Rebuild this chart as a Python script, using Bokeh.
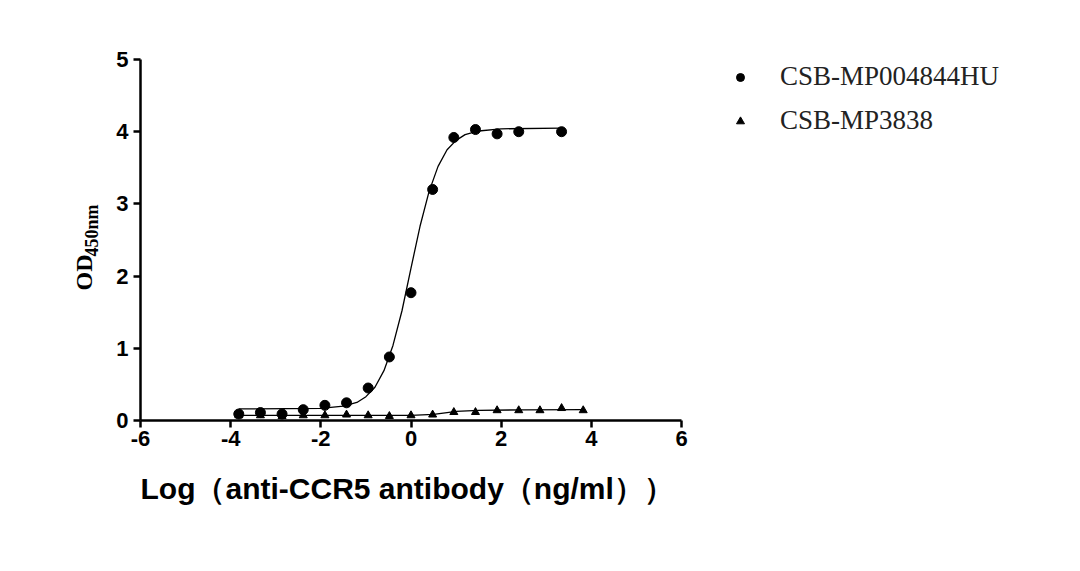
from math import pi

from bokeh.plotting import figure
from bokeh.models import ColumnDataSource, Legend, LegendItem, Label, FixedTicker
from bokeh.embed import file_html
from bokeh.resources import INLINE

# log10 concentration (1:3 dilution series) and OD450 readings
log_conc_a = [-3.82, -3.34, -2.86, -2.39, -1.91, -1.43, -0.95, -0.48, 0.0, 0.48, 0.95, 1.43, 1.91, 2.39, 3.34]
od_a = [0.09, 0.11, 0.09, 0.15, 0.21, 0.245, 0.45, 0.88, 1.77, 3.2, 3.92, 4.03, 3.97, 4.0, 4.0]

log_conc_b = [-3.82, -3.34, -2.86, -2.39, -1.91, -1.43, -0.95, -0.48, 0.0, 0.48, 0.95, 1.43, 1.91, 2.39, 2.86, 3.34, 3.82]
od_b = [0.07, 0.07, 0.06, 0.07, 0.07, 0.08, 0.07, 0.06, 0.07, 0.08, 0.115, 0.115, 0.14, 0.14, 0.14, 0.17, 0.14]

# fitted curves, points
fit_x_a = [-3.82, -2.0, -1.5, -1.2, -1.0, -0.8, -0.6, -0.4, -0.2, 0.0, 0.2, 0.4, 0.6, 0.8, 1.0, 1.2, 1.5, 2.0, 3.34]
fit_y_a = [0.16, 0.168, 0.198, 0.25, 0.33, 0.46, 0.69, 1.04, 1.52, 2.11, 2.69, 3.17, 3.52, 3.75, 3.88, 3.96, 4.01, 4.04, 4.05]

fit_x_b = [-3.82, -1.0, 0.0, 0.5, 0.8, 1.0, 1.5, 2.5, 3.82]
fit_y_b = [0.07, 0.07, 0.072, 0.085, 0.11, 0.125, 0.14, 0.148, 0.15]

labels = ["CSB-MP004844HU", "CSB-MP3838"]
x_ticks = [-6, -4, -2, 0, 2, 4, 6]
y_ticks = [0, 1, 2, 3, 4, 5]
x_title = "Log\uff08anti-CCR5 antibody\uff08ng/ml\uff09\uff09"

src_a = ColumnDataSource(dict(x=log_conc_a, y=od_a))
src_b = ColumnDataSource(dict(x=log_conc_b, y=od_b))

# the frame is bigger than the axes so titles, tick labels and legend sit inside it
px_x = 541 / 12
px_y = 361 / 5
x_start = -6 - 80 / px_x
y_start = -95 / px_y
fw, fh = 990, 475
p = figure(frame_width=fw, frame_height=fh,
           x_range=(x_start, x_start + fw / px_x), y_range=(y_start, y_start + fh / px_y),
           min_border_left=60, min_border_top=40, min_border_right=10, min_border_bottom=0,
           output_backend="svg", toolbar_location=None)
p.outline_line_color = None
p.grid.visible = False
p.background_fill_color = "white"

p.line(fit_x_a, fit_y_a, line_color="black", line_width=1.3)
p.line(fit_x_b, fit_y_b, line_color="black", line_width=1.3)
ra = p.scatter("x", "y", source=src_a, marker="circle", size=10, color="black")
rb = p.scatter("x", "y", source=src_b, marker="triangle", size=8, color="black")

for ax in (p.xaxis[0], p.yaxis[0]):
    ax.axis_line_width = 2.5
    ax.major_tick_line_width = 2.5
    ax.major_tick_out = 7
    ax.major_tick_in = 0
    ax.minor_tick_out = 0
    ax.minor_tick_in = 0
    ax.major_label_text_font = "Liberation Sans"
    ax.major_label_text_font_style = "bold"
    ax.major_label_text_font_size = "22px"
    ax.major_label_text_color = "black"
p.xaxis.ticker = FixedTicker(ticks=x_ticks)
p.yaxis.ticker = FixedTicker(ticks=y_ticks)
p.xaxis.bounds = (-6, 6)
p.yaxis.bounds = (0, 5)
p.xaxis.fixed_location = 0
p.yaxis.fixed_location = -6
p.xaxis.major_label_overrides = {t: str(t) for t in x_ticks}
p.xaxis.major_label_standoff = 3
p.yaxis.major_label_standoff = 5

# x axis title, starting at the left end of the axis
p.add_layout(Label(x=80, y=27, x_units="screen", y_units="screen", text=x_title,
                   text_font="Liberation Sans", text_font_style="bold", text_font_size="30px",
                   text_color="black", text_align="left", text_baseline="alphabetic"))

# y axis title OD with subscript 450nm
p.add_layout(Label(x=23, y=225, x_units="screen", y_units="screen", text="OD", angle=pi / 2,
                   text_font="Liberation Serif", text_font_style="bold", text_font_size="24px",
                   text_color="black", text_align="left", text_baseline="alphabetic"))
p.add_layout(Label(x=31, y=259, x_units="screen", y_units="screen", text="450nm", angle=pi / 2,
                   text_font="Liberation Serif", text_font_style="bold", text_font_size="18px",
                   text_color="black", text_align="left", text_baseline="alphabetic"))

legend = Legend(items=[LegendItem(label=labels[0], renderers=[ra]),
                       LegendItem(label=labels[1], renderers=[rb])],
                location=(670, 379), orientation="vertical")
legend.border_line_color = None
legend.background_fill_alpha = 0
legend.padding = 0
legend.margin = 0
legend.spacing = 13
legend.glyph_width = 20
legend.glyph_height = 30
legend.label_height = 30
legend.label_standoff = 30
legend.label_text_font = "Liberation Serif"
legend.label_text_font_size = "27px"
legend.label_text_color = "#222222"
p.add_layout(legend, "center")

open("out.html", "w").write(file_html(p, INLINE))
